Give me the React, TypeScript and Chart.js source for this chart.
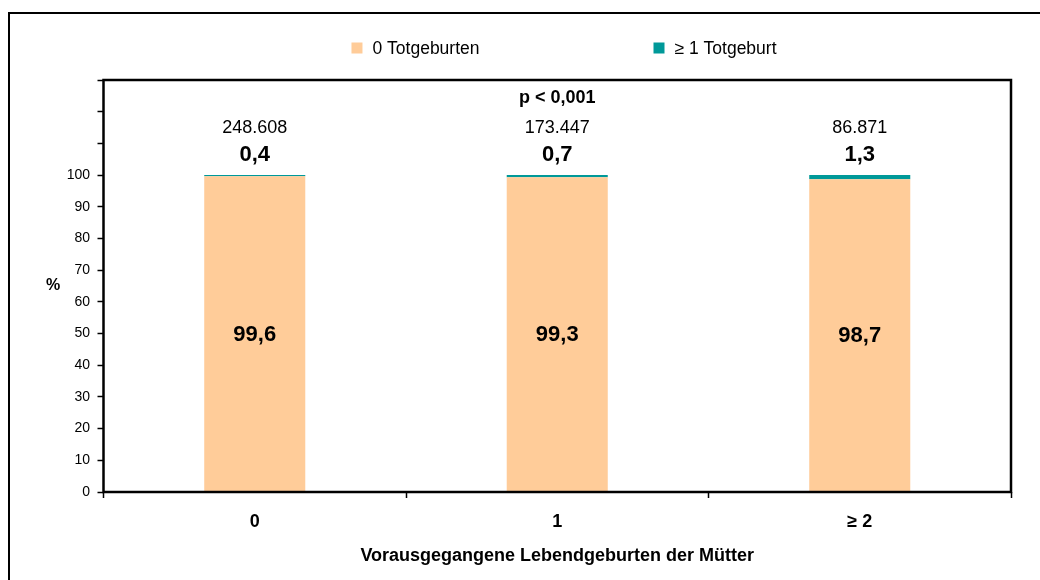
import React, { useEffect, useRef } from 'react';
import { Chart, registerables } from 'chart.js';

Chart.register(...registerables);

// ---- data ----
const categories = ['0', '1', '≥ 2'];
const seriesLabels = ['0 Totgeburten', '≥ 1 Totgeburt'];
const noStillbirthPct = [99.6, 99.3, 98.7];
const stillbirthPct = [0.4, 0.7, 1.3];
const caseCounts = ['248.608', '173.447', '86.871'];
const seriesColors = ['#FFCC99', '#009999'];
const yMax = 130;
const yStep = 10;
const yLabelLimit = 100;
const pValueText = 'p < 0,001';
const xAxisTitle = 'Vorausgegangene Lebendgeburten der Mütter';
const yAxisTitle = '%';

const FONT = "'Liberation Sans', Arial, Helvetica, sans-serif";
const fmt = (v: number) => v.toFixed(1).replace('.', ',');

const overlayPlugin = {
  id: 'overlay',
  afterDraw(chart: any) {
    const { ctx, chartArea: a } = chart;
    ctx.save();
    ctx.strokeStyle = '#000';

    // outer frame (top + left only visible)
    ctx.lineWidth = 2;
    ctx.beginPath();
    ctx.moveTo(9, 580);
    ctx.lineTo(9, 13);
    ctx.lineTo(1040, 13);
    ctx.stroke();

    // plot frame
    ctx.lineWidth = 2.5;
    ctx.strokeRect(a.left, a.top, a.right - a.left, a.bottom - a.top);

    // legend
    ctx.font = `17.5px ${FONT}`;
    ctx.textBaseline = 'middle';
    ctx.textAlign = 'left';
    const box = 11;
    const boxGap = 10;
    const itemGap = 174;
    const widths = seriesLabels.map((l) => box + boxGap + ctx.measureText(l).width);
    const total = widths.reduce((s, w) => s + w, 0) + itemGap * (widths.length - 1);
    let lx = 564 - total / 2;
    const ly = 48;
    seriesLabels.forEach((l, i) => {
      ctx.fillStyle = chart.data.datasets[i].backgroundColor;
      ctx.fillRect(lx, ly - box / 2, box, box);
      ctx.fillStyle = '#000';
      ctx.fillText(l, lx + box + boxGap, ly + 1);
      lx += widths[i] + itemGap;
    });

    // y title (upright)
    ctx.font = `bold 16px ${FONT}`;
    ctx.textAlign = 'center';
    ctx.fillStyle = '#000';
    ctx.fillText(yAxisTitle, 53, (a.top + a.bottom) / 2);

    // p-value
    ctx.font = `bold 18px ${FONT}`;
    ctx.fillText(pValueText, (a.left + a.right) / 2, a.top + 18);

    // bar labels
    const m0 = chart.getDatasetMeta(0);
    const m1 = chart.getDatasetMeta(1);
    m0.data.forEach((bar: any, i: number) => {
      const { x, y, base } = bar.getProps(['x', 'y', 'base'], true);
      ctx.font = `bold 22px ${FONT}`;
      ctx.fillText(fmt(noStillbirthPct[i]), x, (y + base) / 2 + 1);
    });
    m1.data.forEach((bar: any, i: number) => {
      const { x, y } = bar.getProps(['x', 'y'], true);
      ctx.font = `bold 22px ${FONT}`;
      ctx.fillText(fmt(stillbirthPct[i]), x, y - 20);
      ctx.font = `18px ${FONT}`;
      ctx.fillText(caseCounts[i], x, y - 47);
    });
    ctx.restore();
  },
};

export default function App() {
  const ref = useRef<HTMLCanvasElement>(null);

  useEffect(() => {
    if (!ref.current) return;
    Chart.defaults.font.family = FONT;
    const chart = new Chart(ref.current, {
      type: 'bar',
      data: {
        labels: categories,
        datasets: [
          {
            label: seriesLabels[0],
            data: noStillbirthPct,
            backgroundColor: seriesColors[0],
            borderWidth: 0,
            categoryPercentage: 1,
            barPercentage: 0.334,
          },
          {
            label: seriesLabels[1],
            data: stillbirthPct,
            backgroundColor: seriesColors[1],
            borderWidth: 0,
            categoryPercentage: 1,
            barPercentage: 0.334,
          },
        ],
      },
      options: {
        responsive: false,
        animation: false,
        devicePixelRatio: 1,
        layout: { padding: { left: 0, right: 29, top: 80, bottom: 0 } },
        plugins: {
          legend: { display: false },
          tooltip: { enabled: false },
          title: { display: false },
        },
        scales: {
          x: {
            stacked: true,
            offset: true,
            border: { display: false },
            grid: {
              offset: true,
              drawOnChartArea: false,
              drawTicks: true,
              tickLength: 6,
              tickColor: '#000',
              tickWidth: 1.5,
            },
            ticks: {
              color: '#000',
              padding: 13,
              font: { size: 18, weight: 'bold', family: FONT },
            },
            title: {
              display: true,
              text: xAxisTitle,
              color: '#000',
              font: { size: 18, weight: 'bold', family: FONT },
              padding: { top: 0, bottom: 13 },
            },
            afterFit(scale: any) {
              scale.height = 88;
            },
          },
          y: {
            stacked: true,
            min: 0,
            max: yMax,
            border: { display: false },
            grid: {
              drawOnChartArea: false,
              drawTicks: true,
              tickLength: 6,
              tickColor: '#000',
              tickWidth: 1.5,
            },
            ticks: {
              stepSize: yStep,
              color: '#000',
              padding: 7.5,
              font: { size: 14, family: FONT },
              callback: (v: any) => (Number(v) <= yLabelLimit ? String(v) : ''),
            },
            afterFit(scale: any) {
              scale.width = 103.5;
            },
          },
        },
      },
      plugins: [overlayPlugin],
    } as any);
    return () => chart.destroy();
  }, []);

  return (
    <div style={{ position: 'absolute', left: 0, top: 0, width: 1040, height: 580, background: '#fff' }}>
      <canvas ref={ref} width={1040} height={580} style={{ display: 'block' }} />
    </div>
  );
}
